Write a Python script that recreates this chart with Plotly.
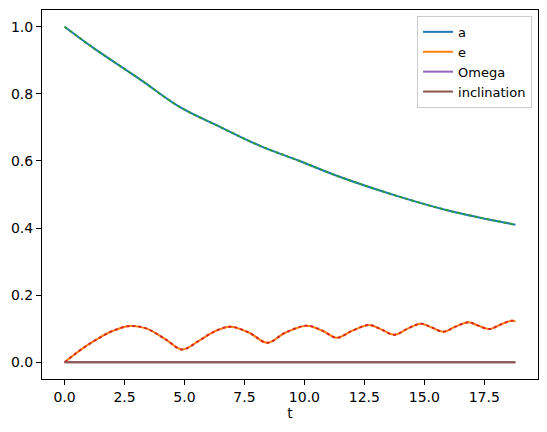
import plotly.graph_objects as go

# values
t_a = [0.0, 1.2, 3.15, 4.8, 6.5, 8.15, 9.8, 11.35, 13.85, 16.07, 18.8]
a_vals = [1.0, 0.937, 0.843, 0.761, 0.701, 0.645, 0.600, 0.556, 0.496, 0.451, 0.41]

t_e = [0.0, 0.5, 1.0, 1.5, 2.0, 2.7, 3.4, 4.2, 4.9, 5.6, 6.2, 6.9, 7.7, 8.45,
       9.2, 10.1, 10.75, 11.35, 12.0, 12.7, 13.2, 13.75, 14.3, 14.85, 15.3,
       15.8, 16.3, 16.85, 17.25, 17.7, 18.2, 18.65, 18.8]
e_vals = [0.0, 0.028, 0.053, 0.075, 0.093, 0.108, 0.101, 0.069, 0.038, 0.064,
          0.090, 0.106, 0.088, 0.058, 0.088, 0.109, 0.094, 0.073, 0.094, 0.111,
          0.098, 0.082, 0.100, 0.115, 0.104, 0.091, 0.106, 0.119, 0.109, 0.099,
          0.113, 0.124, 0.121]

t_flat = [0.0, 18.8]
omega_vals = [0.0, 0.0]
incl_vals = [0.0, 0.0]

BLUE, ORANGE, GREEN, RED, PURPLE, BROWN = "#1f77b4", "#ff7f0e", "#2ca02c", "#d62728", "#9467bd", "#8c564b"

fig = go.Figure()
fig.add_trace(go.Scatter(x=t_a, y=a_vals, name="a", mode="lines",
                         line=dict(color=BLUE, width=2, shape="spline")))
fig.add_trace(go.Scatter(x=t_e, y=e_vals, name="e", mode="lines",
                         line=dict(color=ORANGE, width=2, shape="spline")))
# dotted overlays (no legend entry)
fig.add_trace(go.Scatter(x=t_a, y=a_vals, mode="lines", showlegend=False,
                         line=dict(color=GREEN, width=2, dash="dot", shape="spline")))
fig.add_trace(go.Scatter(x=t_e, y=e_vals, mode="lines", showlegend=False,
                         line=dict(color=RED, width=2, dash="dot", shape="spline")))
fig.add_trace(go.Scatter(x=t_flat, y=omega_vals, name="Omega", mode="lines",
                         line=dict(color=PURPLE, width=2)))
fig.add_trace(go.Scatter(x=t_flat, y=incl_vals, name="inclination", mode="lines",
                         line=dict(color=BROWN, width=2)))

axis_style = dict(showgrid=False, zeroline=False, showline=True, linecolor="black",
                  linewidth=1, mirror=True, ticks="outside", ticklen=5,
                  tickcolor="black", tickfont=dict(size=14, color="black"),
                  automargin=False)

fig.update_xaxes(range=[-0.94, 19.74], tick0=0, dtick=2.5, tickformat=".1f",
                 title=dict(text="t", font=dict(size=14, color="black"), standoff=4),
                 **axis_style)
fig.update_yaxes(range=[-0.05, 1.05], tick0=0, dtick=0.2, tickformat=".1f", **axis_style)

# page body has an 8px margin, so the figure is sized to fit the window
fig.update_layout(
    width=539, height=424,
    margin=dict(l=34, r=9, t=2, b=53),
    plot_bgcolor="white", paper_bgcolor="white",
    font=dict(family="DejaVu Sans", size=14, color="black"),
    showlegend=True,
    legend=dict(x=0.988, y=0.984, xanchor="right", yanchor="top",
                bgcolor="rgba(255,255,255,0.8)", bordercolor="#cccccc", borderwidth=1,
                font=dict(size=13)),
)

fig.write_html("out.html")
